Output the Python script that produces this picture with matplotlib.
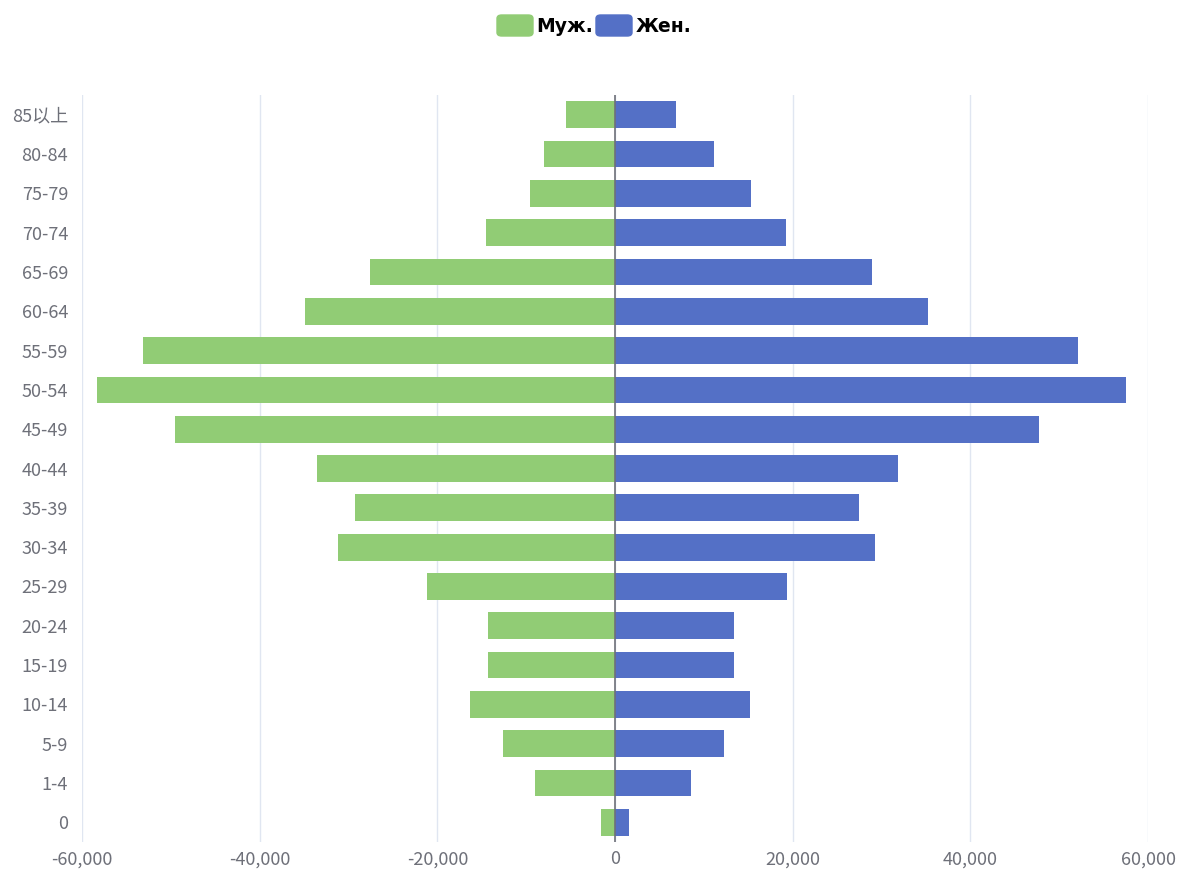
import matplotlib
matplotlib.use("Agg")
from matplotlib import pyplot as plt
from matplotlib.patches import FancyBboxPatch
from matplotlib.ticker import FuncFormatter

plt.rcParams['font.family'] = ['Noto Sans CJK SC', 'DejaVu Sans']

# age groups, bottom to top
ages = ['0', '1-4', '5-9', '10-14', '15-19', '20-24', '25-29', '30-34', '35-39',
        '40-44', '45-49', '50-54', '55-59', '60-64', '65-69', '70-74', '75-79',
        '80-84', '85以上']
male = [1550, 9000, 12650, 16300, 14300, 14300, 21200, 31200, 29300,
        33600, 49500, 58300, 53100, 34900, 27600, 14500, 9600, 8000, 5500]
female = [1600, 8600, 12300, 15200, 13400, 13400, 19350, 29300, 27450,
          31850, 47700, 57500, 52100, 35250, 28900, 19250, 15300, 11150, 6850]
xticks = [-60000, -40000, -20000, 0, 20000, 40000, 60000]

GREEN = '#91cc75'
BLUE = '#5470c6'
GRAY = '#6e7079'

fig = plt.figure(figsize=(11.79, 8.71), dpi=100)
ax = fig.add_axes([0.0696, 0.0333, 0.9042, 0.8576])

y = list(range(len(ages)))
ax.barh(y, [-v for v in male], height=0.68, color=GREEN, zorder=2)
ax.barh(y, female, height=0.68, color=BLUE, zorder=2)

ax.set_xlim(-60000, 60000)
ax.set_ylim(-0.5, len(ages) - 0.5)
ax.set_xticks(xticks)
ax.xaxis.set_major_formatter(FuncFormatter(lambda v, p: f'{int(v):,}'))
ax.set_yticks(y)
ax.set_yticklabels(ages)
ax.tick_params(axis='both', length=0, labelsize=13, labelcolor=GRAY)
ax.tick_params(axis='y', pad=10)
ax.tick_params(axis='x', pad=6)

for s in ax.spines.values():
    s.set_visible(False)
ax.grid(axis='x', color='#e0e6f1', linewidth=1, zorder=0)
ax.axvline(0, color=GRAY, linewidth=1.2, zorder=3)

# legend
fig.patches.append(FancyBboxPatch((497 / 1179, 1 - 36 / 871), 36 / 1179, 21 / 871,
                                  boxstyle='round,pad=0,rounding_size=0.004',
                                  transform=fig.transFigure, color=GREEN))
fig.text(536 / 1179, 1 - 26 / 871, 'Муж.', fontsize=13.5, fontweight='bold',
         va='center', ha='left', family=['DejaVu Sans'])
fig.patches.append(FancyBboxPatch((596 / 1179, 1 - 36 / 871), 36 / 1179, 21 / 871,
                                  boxstyle='round,pad=0,rounding_size=0.004',
                                  transform=fig.transFigure, color=BLUE))
fig.text(636 / 1179, 1 - 26 / 871, 'Жен.', fontsize=13.5, fontweight='bold',
         va='center', ha='left', family=['DejaVu Sans'])

fig.savefig('out.png', dpi=100)
